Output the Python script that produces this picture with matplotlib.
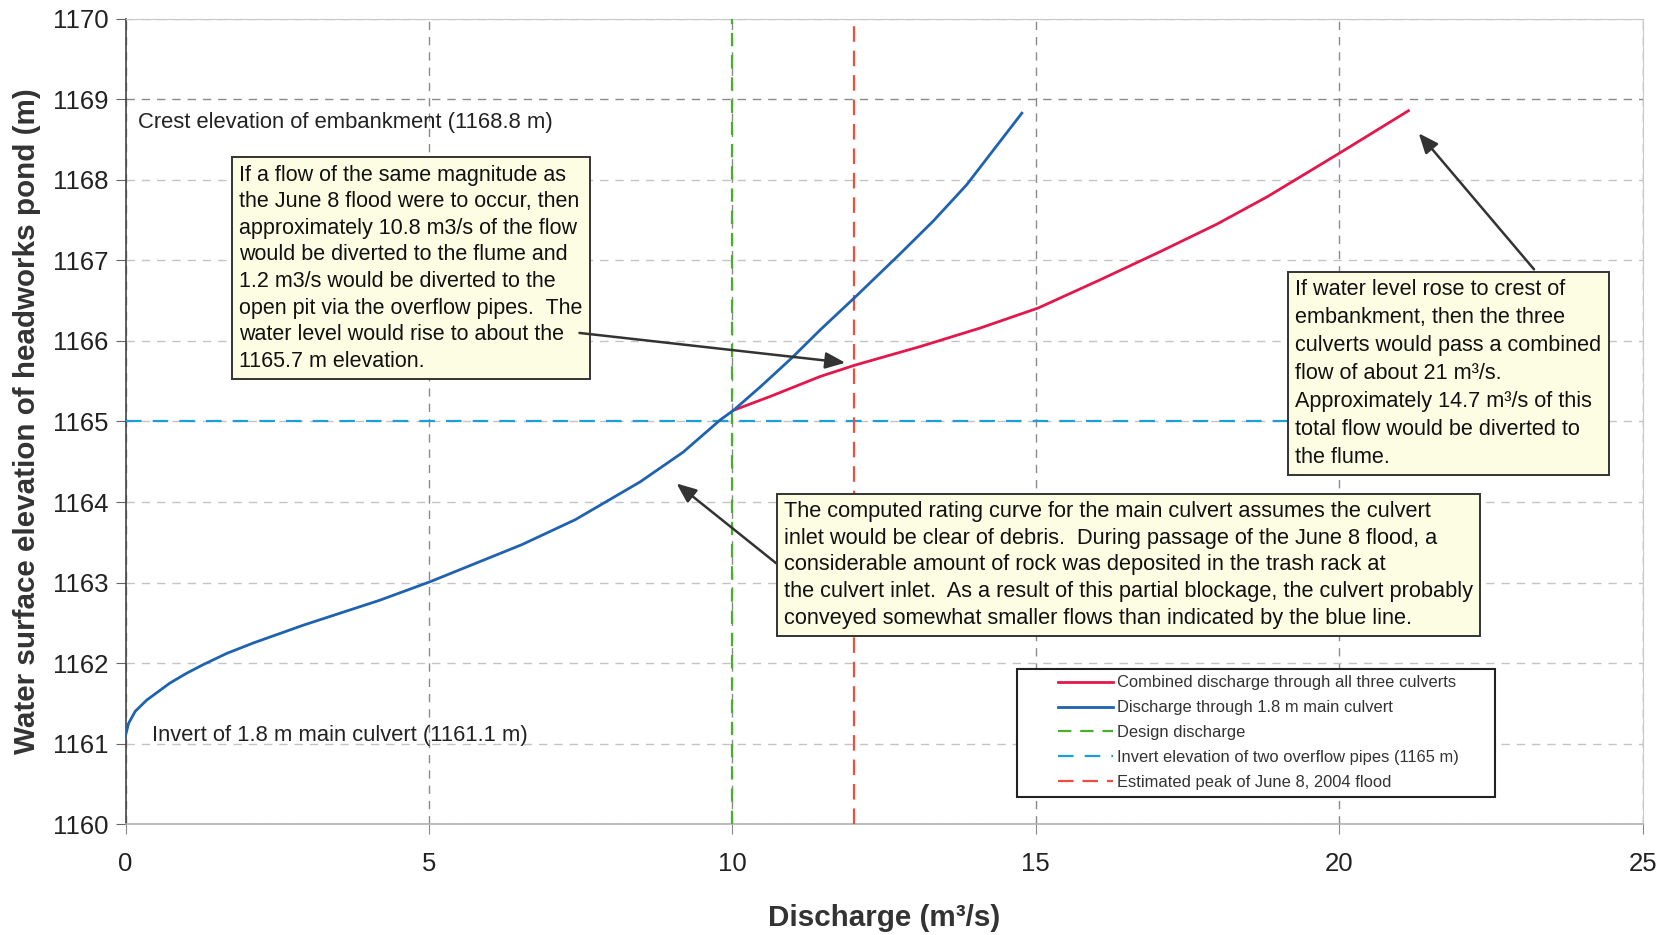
import matplotlib
matplotlib.use('Agg')
import matplotlib.pyplot as plt
from matplotlib.legend_handler import HandlerLine2D
from matplotlib.lines import Line2D

plt.rcParams['font.family'] = ['Liberation Sans', 'DejaVu Sans']

# ---------------- data ----------------
main_q = [0.0, 0.05, 0.16, 0.35, 0.73, 1.0, 1.28, 1.67, 2.11, 2.93, 4.19, 5.02,
          6.53, 7.41, 7.82, 8.48, 9.19, 9.80, 10.02, 10.46, 10.98, 11.45, 12.03,
          12.76, 13.31, 13.86, 14.77]
main_h = [1161.10, 1161.25, 1161.40, 1161.54, 1161.75, 1161.87, 1161.98, 1162.12,
          1162.25, 1162.47, 1162.78, 1163.01, 1163.47, 1163.78, 1163.96, 1164.25,
          1164.62, 1165.02, 1165.14, 1165.43, 1165.79, 1166.14, 1166.55, 1167.08,
          1167.49, 1167.94, 1168.83]
comb_q = [10.02, 10.62, 11.45, 12.02, 13.09, 14.08, 15.04, 16.06, 17.05, 17.98,
          18.81, 19.36, 20.04, 21.14]
comb_h = [1165.14, 1165.31, 1165.56, 1165.70, 1165.93, 1166.16, 1166.41, 1166.76,
          1167.11, 1167.45, 1167.79, 1168.04, 1168.35, 1168.86]
design_q = 10.0
peak_q = 12.0
overflow_h = 1165.0
x_ticks = [0, 5, 10, 15, 20, 25]
y_ticks = list(range(1160, 1171))
series_labels = ['Combined discharge through all three culverts',
                 'Discharge through 1.8 m main culvert',
                 'Design discharge',
                 'Invert elevation of two overflow pipes (1165 m)',
                 'Estimated peak of June 8, 2004 flood']

# ---------------- figure ----------------
fig = plt.figure(figsize=(16.67, 9.35), dpi=100)
ax = fig.add_axes([0.0753, 0.1187, 0.9101, 0.8610])
ax.set_xlim(0, 25)
ax.set_ylim(1160, 1170)

l_comb, = ax.plot(comb_q, comb_h, color='#e3174b', lw=2.0, zorder=4,
                  label=series_labels[0])
l_main, = ax.plot(main_q, main_h, color='#1f62b0', lw=2.0, zorder=4,
                  label=series_labels[1])
l_design = ax.axvline(design_q, color='#4aae2e', lw=1.6, ls=(0, (6, 4)),
                      zorder=3, label=series_labels[2])
l_over = ax.axhline(overflow_h, xmin=0, xmax=0.92, color='#1aa0d6', lw=1.6,
                    ls=(0, (7, 5)), zorder=3, label=series_labels[3])
l_peak = ax.axvline(peak_q, color='#f04e3c', lw=1.6, ls=(0, (7, 4)),
                    zorder=3, label=series_labels[4])

# ticks / grid
ax.set_xticks(x_ticks)
ax.set_yticks(y_ticks)
ax.tick_params(axis='both', labelsize=18.5, labelcolor='#222222')
ax.tick_params(axis='x', direction='out', length=7, pad=13, color='#888888')
ax.tick_params(axis='y', direction='out', length=7, pad=5, color='#666666')
ax.set_axisbelow(True)
ax.grid(axis='x', color='#8a8a8a', ls=(0, (6, 5)), lw=1.0)
ax.grid(axis='y', color='#c4c4c4', ls=(0, (6, 5)), lw=1.0)
for gl, v in zip(ax.get_ygridlines(), y_ticks):
    if v == 1169:
        gl.set_color('#8a8a8a')

ax.spines['left'].set_color('#444444')
ax.spines['left'].set_linewidth(1.2)
ax.spines['bottom'].set_color('#b0b0b0')
ax.spines['bottom'].set_linewidth(1.2)
ax.spines['top'].set_color('#c8c8c8')
ax.spines['right'].set_color('#c8c8c8')

ax.set_xlabel('Discharge (m³/s)', fontsize=21.3, fontweight='bold', color='#333333')
ax.set_ylabel('Water surface elevation of headworks pond (m)', fontsize=21.3,
              fontweight='bold', color='#333333')
ax.xaxis.set_label_coords(0.5, -0.0989)
ax.yaxis.set_label_coords(-0.0554, 0.5)

# plain labels
ax.text(0.198, 1168.72, 'Crest elevation of embankment (1168.8 m)', fontsize=15.8,
        ha='left', va='center', color='#222222', zorder=5)
ax.text(0.437, 1161.1, 'Invert of 1.8 m main culvert (1161.1 m)', fontsize=15.8,
        ha='left', va='center', color='#222222', zorder=5)

# boxed notes
box = dict(boxstyle='square,pad=0.33', fc='#fdfde3', ec='#333333', lw=1.4)
t1 = ("If a flow of the same magnitude as\n"
      "the June 8 flood were to occur, then\n"
      "approximately 10.8 m3/s of the flow\n"
      "would be diverted to the flume and\n"
      "1.2 m3/s would be diverted to the\n"
      "open pit via the overflow pipes.  The\n"
      "water level would rise to about the\n"
      "1165.7 m elevation.")
t2 = ("The computed rating curve for the main culvert assumes the culvert\n"
      "inlet would be clear of debris.  During passage of the June 8 flood, a\n"
      "considerable amount of rock was deposited in the trash rack at\n"
      "the culvert inlet.  As a result of this partial blockage, the culvert probably\n"
      "conveyed somewhat smaller flows than indicated by the blue line.")
t3 = ("If water level rose to crest of\n"
      "embankment, then the three\n"
      "culverts would pass a combined\n"
      "flow of about 21 m³/s.\n"
      "Approximately 14.7 m³/s of this\n"
      "total flow would be diverted to\n"
      "the flume.")

def boxed(q, h, txt, size, ls):
    pad_px = 0.33 * size * 100 / 72.0
    ax.annotate(txt, xy=(q, h), xycoords='data', xytext=(pad_px, -pad_px),
                textcoords='offset pixels', ha='left', va='top', fontsize=size,
                linespacing=ls, color='#111111', bbox=box, zorder=5)

boxed(1.76, 1168.28, t1, 15.5, 1.35)
boxed(10.73, 1164.10, t2, 15.65, 1.35)
boxed(19.16, 1166.86, t3, 15.6, 1.44)

# arrows
arrow = dict(arrowstyle='-|>,head_length=0.6,head_width=0.25', color='#333333',
             lw=1.8, shrinkA=0, shrinkB=0, mutation_scale=20)
ax.annotate('', xy=(11.86, 1165.73), xytext=(7.48, 1166.10), arrowprops=arrow, zorder=6)
ax.annotate('', xy=(9.08, 1164.23), xytext=(10.72, 1163.24), arrowprops=arrow, zorder=6)
ax.annotate('', xy=(21.31, 1168.58), xytext=(23.21, 1166.89), arrowprops=arrow, zorder=6)

# legend
leg = ax.legend(handles=[l_comb, l_main, l_design, l_over, l_peak],
                loc='lower left', bbox_to_anchor=(0.5878, 0.0339, 0.3149, 0.2),
                mode='expand', borderaxespad=0, fontsize=11.9,
                handler_map={Line2D: HandlerLine2D(xpad=2.08)},
                handlelength=5.42, handletextpad=0.2, borderpad=0.4,
                labelspacing=0.6, fancybox=False, framealpha=1,
                edgecolor='#222222')
leg.get_frame().set_linewidth(1.5)
for t in leg.get_texts():
    t.set_color('#333333')
leg.set_zorder(7)

fig.savefig('out.png', dpi=100)
